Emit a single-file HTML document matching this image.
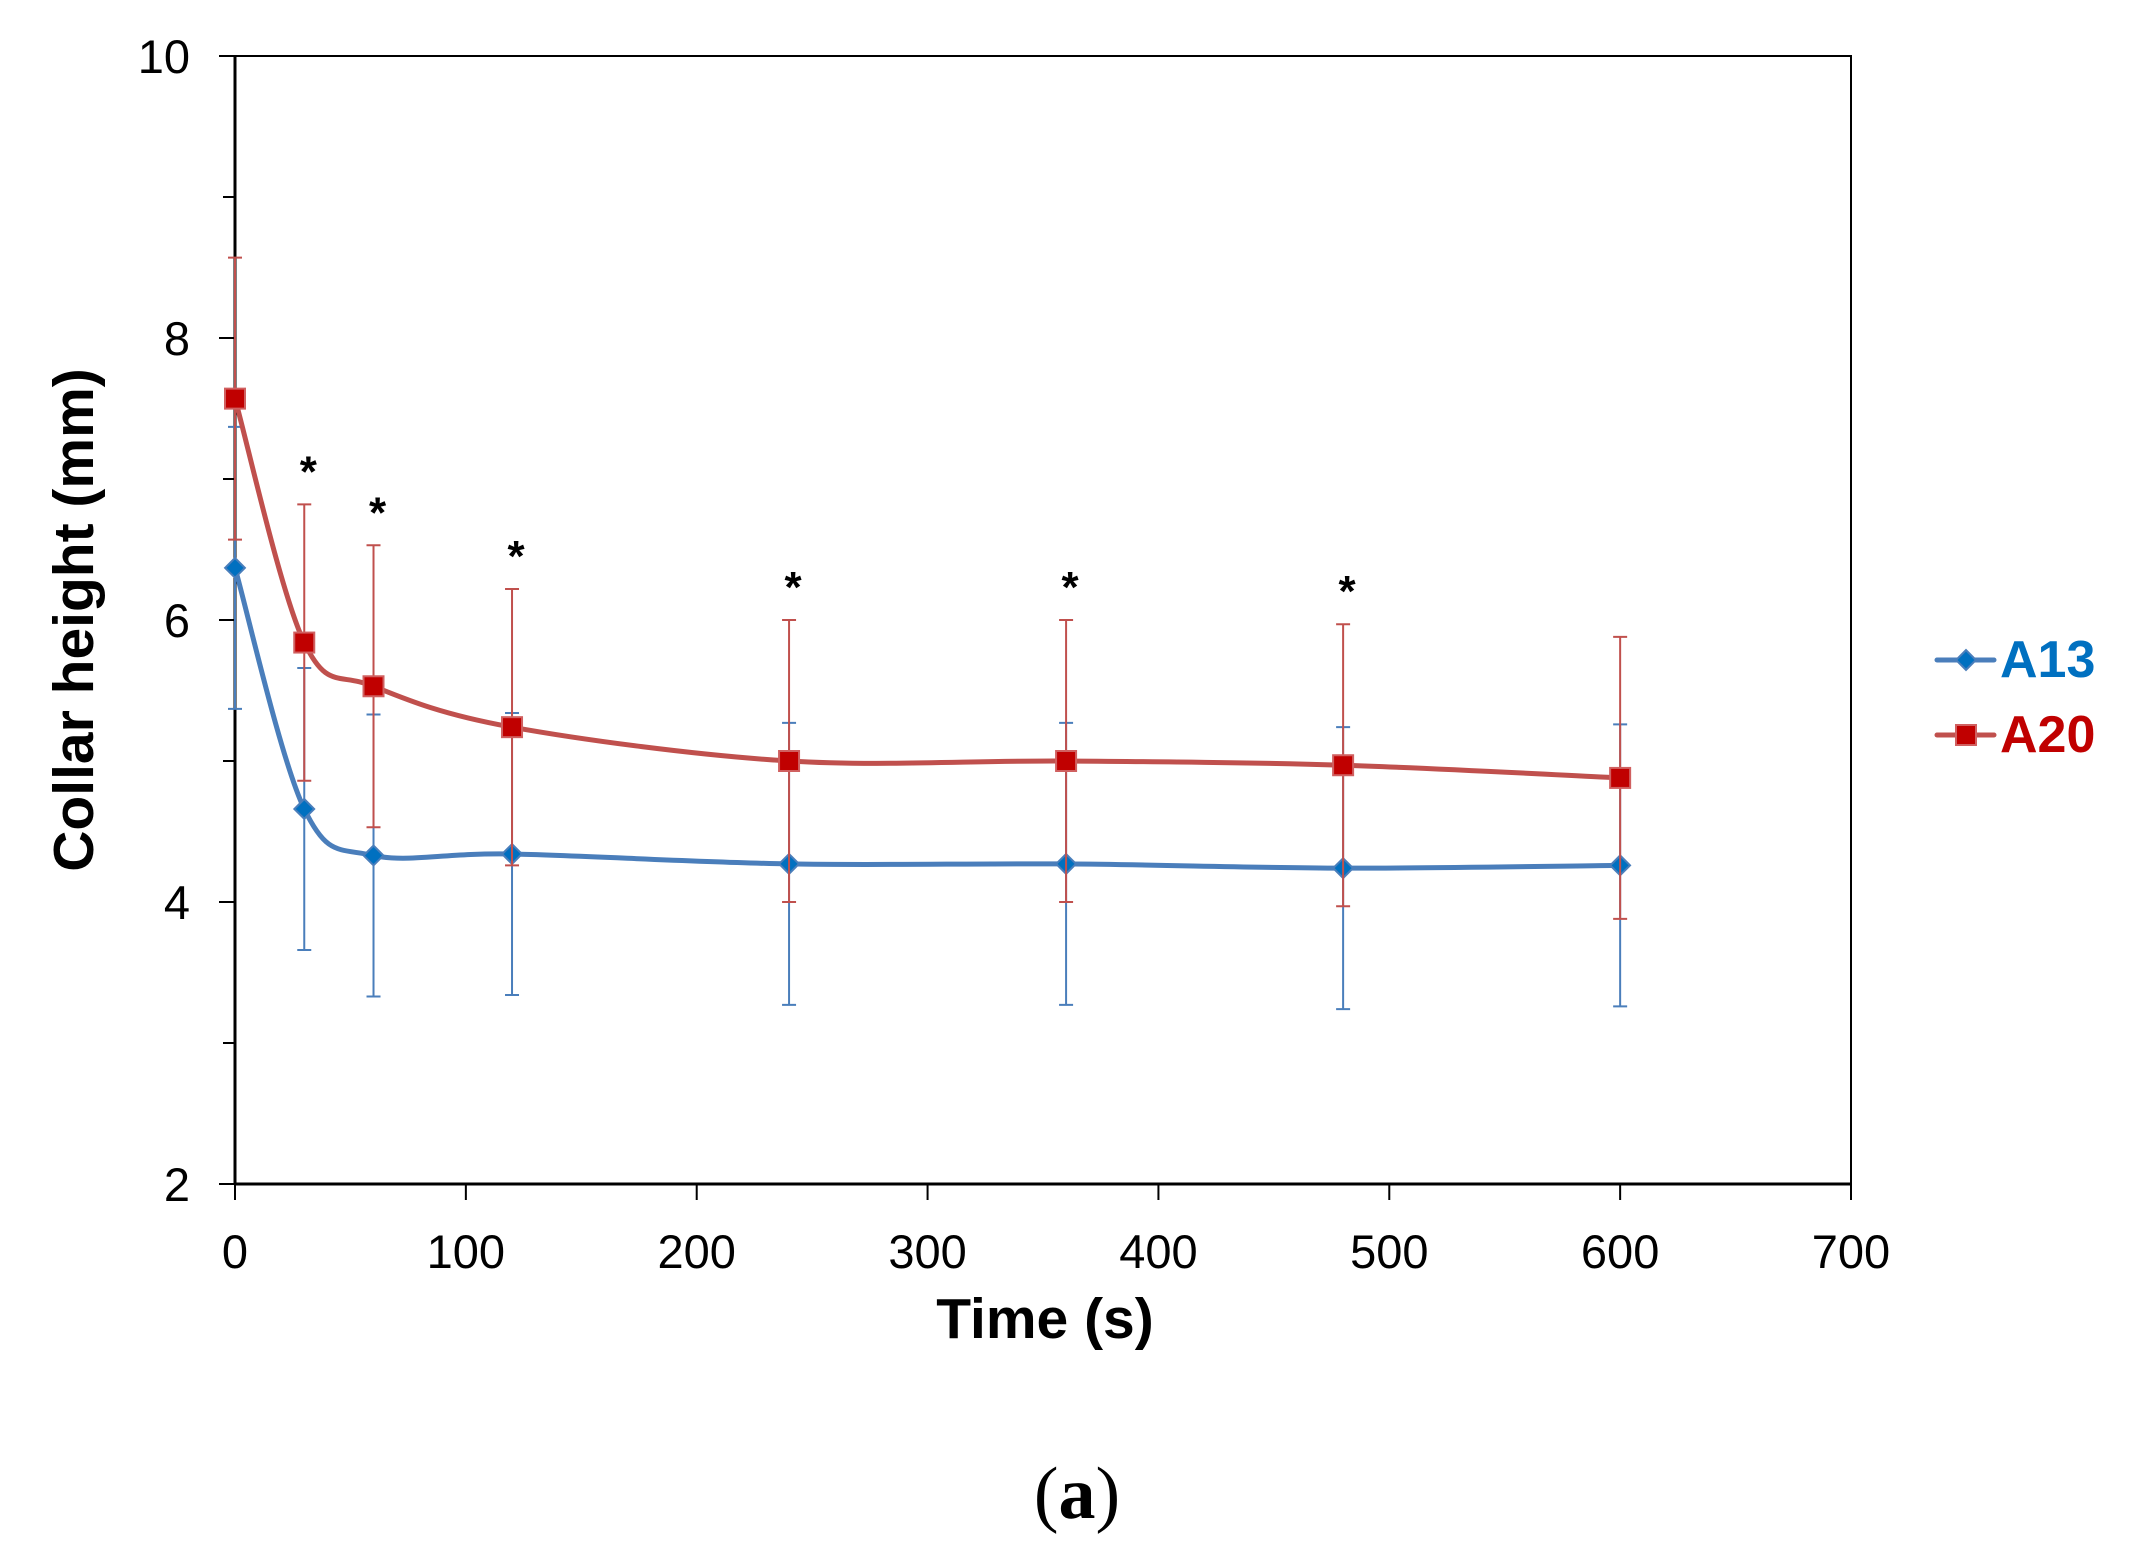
<!DOCTYPE html>
<html><head><meta charset="utf-8"><style>
html,body{margin:0;padding:0;background:#fff;}
svg{display:block;font-family:"Liberation Sans",sans-serif;}
</style></head><body>
<svg id="chart" width="2133" height="1560" viewBox="0 0 2133 1560">
<g id="axes"></g>
<g id="series"></g>
<text x="74" y="620" transform="rotate(-90 74 620)" text-anchor="middle" dominant-baseline="central" font-size="57" font-weight="bold">Collar height (mm)</text>
<text x="1045" y="1338" text-anchor="middle" font-size="57" font-weight="bold">Time (s)</text>
<text x="1077" y="1518" text-anchor="middle" font-size="74" font-family="Liberation Serif, serif">(<tspan font-weight="bold">a</tspan>)</text>
<g>
 <g>
  <line x1="1937" y1="660" x2="1994" y2="660" stroke="#4a7ebb" stroke-width="5" stroke-linecap="round"/>
  <rect x="1959" y="653" width="14" height="14" fill="#0070c0" stroke="#4a7ebb" stroke-width="2" transform="rotate(45 1966 660)"/>
  <text x="2000" y="677" font-size="52" font-weight="bold" fill="#0070c0">A13</text>
 </g>
 <g>
  <line x1="1937" y1="735" x2="1994" y2="735" stroke="#c0504d" stroke-width="5" stroke-linecap="round"/>
  <rect x="1956" y="725" width="20" height="20" fill="#c00000" stroke="#d06060" stroke-width="2"/>
  <text x="2000" y="752" font-size="52" font-weight="bold" fill="#c00000">A20</text>
 </g>
</g>
</svg>
<script>
const times=[0,30,60,120,240,360,480,600];
const a13=[6.37,4.66,4.33,4.34,4.27,4.27,4.24,4.26];
const a13Err=[1.0,1.0,1.0,1.0,1.0,1.0,1.0,1.0];
const a20=[7.57,5.84,5.53,5.24,5.00,5.00,4.97,4.88];
const a20Err=[1.0,0.98,1.0,0.98,1.0,1.0,1.0,1.0];
const sigFlags=[0,1,1,1,1,1,1,0];
const xTicks=[0,100,200,300,400,500,600,700];
const yTicks=[2,4,6,8,10];
const yMinor=[3,5,7,9];

const L=235,R=1851,T=56,B=1184;
const xs=v=>L+(v-0)/700*(R-L);
const ys=v=>B-(v-2)/8*(B-T);
const NS="http://www.w3.org/2000/svg";
function mk(tag,attrs,parent){const e=document.createElementNS(NS,tag);for(const k in attrs)e.setAttribute(k,attrs[k]);parent.appendChild(e);return e;}
const ax=document.getElementById('axes'), sg=document.getElementById('series');

let fr=mk('rect',{x:L,y:T,width:R-L,height:B-T,fill:'none',stroke:'#000','stroke-width':2},ax);


let yl=mk('line',{x1:L,y1:T,x2:L,y2:B,stroke:'#000','stroke-width':3},ax);


let xl=mk('line',{x1:L,y1:B,x2:R,y2:B,stroke:'#000','stroke-width':3},ax);


xTicks.forEach(t=>{
 const tk=mk('line',{x1:xs(t),y1:B,x2:xs(t),y2:B+16,stroke:'#000','stroke-width':2},ax);
 
 
 const tx=mk('text',{x:xs(t),y:1268,'text-anchor':'middle','font-size':47},ax);tx.textContent=t;
 
 
});
yTicks.forEach(t=>{
 const tk=mk('line',{x1:L-16,y1:ys(t),x2:L,y2:ys(t),stroke:'#000','stroke-width':2},ax);
 
 
 const tx=mk('text',{x:190,y:ys(t)+17,'text-anchor':'end','font-size':47},ax);tx.textContent=t;
 
 
});
yMinor.forEach(t=>{
 const tk=mk('line',{x1:L-12,y1:ys(t),x2:L,y2:ys(t),stroke:'#000','stroke-width':2},ax);
 
 
});

function smooth(pts){
 let d=`M${pts[0][0]},${pts[0][1]}`;
 for(let i=0;i<pts.length-1;i++){
  const p0=pts[Math.max(0,i-1)],p1=pts[i],p2=pts[i+1],p3=pts[Math.min(pts.length-1,i+2)];
  const k=1/6;
  d+=` C${p1[0]+(p2[0]-p0[0])*k},${p1[1]+(p2[1]-p0[1])*k} ${p2[0]-(p3[0]-p1[0])*k},${p2[1]-(p3[1]-p1[1])*k} ${p2[0]},${p2[1]}`;
 }
 return d;
}
function drawSeries(vals,errs,lineCol,errCol,name,marker){
 const g=mk('g',{},sg);
 
 
 times.forEach((t,i)=>{
  const x=xs(t),y1=ys(vals[i]-errs[i]),y2=ys(vals[i]+errs[i]);
  const e=mk('path',{d:`M${x},${y1}V${y2}M${x-7},${y1}h14M${x-7},${y2}h14`,stroke:errCol,'stroke-width':2,fill:'none'},g);
  
  
 });
 const p=mk('path',{d:smooth(times.map((t,i)=>[xs(t),ys(vals[i])])),stroke:lineCol,'stroke-width':5,fill:'none'},g);
 
 
 times.forEach((t,i)=>{
  const x=xs(t),y=ys(vals[i]);let m;
  if(marker==='d') m=mk('rect',{x:x-7,y:y-7,width:14,height:14,fill:'#0070c0',stroke:'#4a7ebb','stroke-width':2,transform:`rotate(45 ${x} ${y})`},g);
  else m=mk('rect',{x:x-10,y:y-10,width:20,height:20,fill:'#c00000',stroke:'#d06060','stroke-width':2},g);
  
  
 });
}
drawSeries(a13,a13Err,'#4a7ebb','#4a7ebb','a13','d');
drawSeries(a20,a20Err,'#c0504d','#c0504d','a20','s');
times.forEach((t,i)=>{
 if(!sigFlags[i])return;
 const s=mk('text',{x:xs(t)+4,y:ys(a20[i]+a20Err[i])-18,'text-anchor':'middle','font-size':44,'font-weight':'bold'},sg);
 s.textContent='*';
 
 
});
</script>
</body></html>
